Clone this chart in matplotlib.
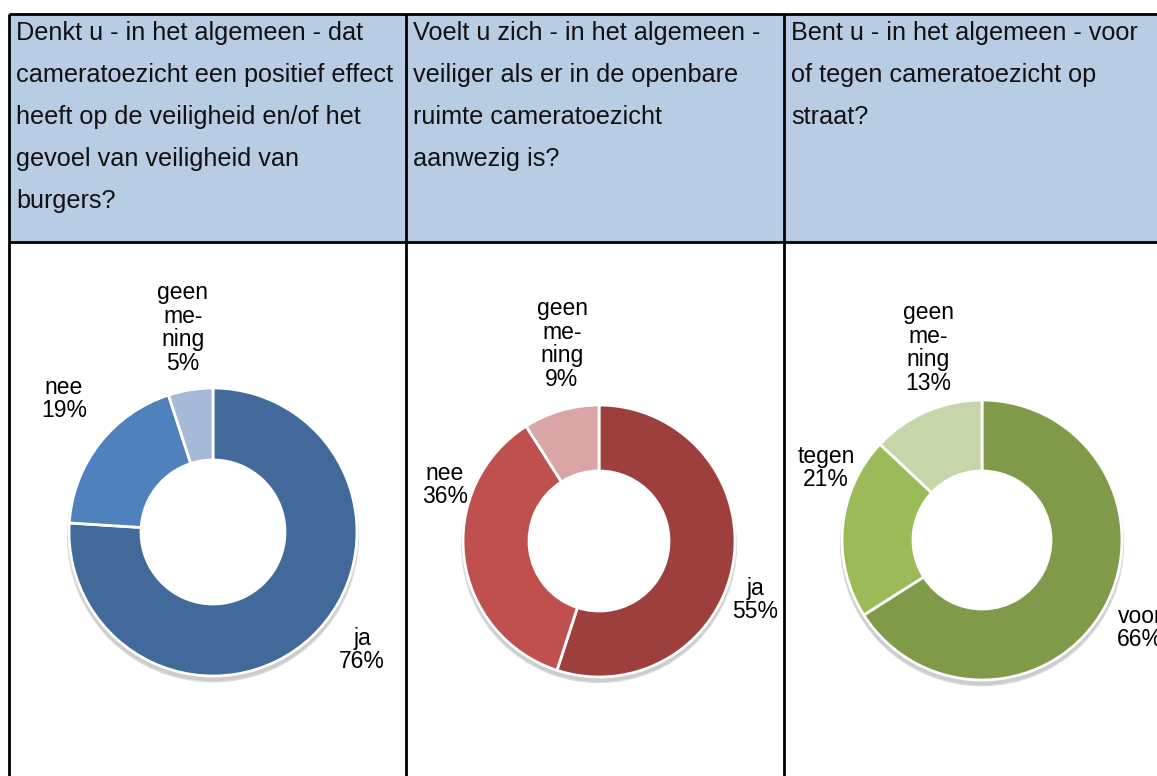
import matplotlib
matplotlib.use("Agg")
import matplotlib.pyplot as plt
from matplotlib.patches import Rectangle, Circle

plt.rcParams['font.family'] = ['Liberation Sans', 'DejaVu Sans']

# --------- данные ---------
questions = [
    ["Denkt u - in het algemeen - dat", "cameratoezicht een positief effect",
     "heeft op de veiligheid en/of het", "gevoel van veiligheid van", "burgers?"],
    ["Voelt u zich - in het algemeen -", "veiliger als er in de openbare",
     "ruimte cameratoezicht", "aanwezig is?"],
    ["Bent u - in het algemeen - voor", "of tegen cameratoezicht op", "straat?"],
]
labels_1 = ["ja", "nee", "geen\nme-\nning"]
values_1 = [76, 19, 5]
labels_2 = ["ja", "nee", "geen\nme-\nning"]
values_2 = [55, 36, 9]
labels_3 = ["voor", "tegen", "geen\nme-\nning"]
values_3 = [66, 21, 13]

colors_1 = ["#416A9B", "#4F81BD", "#A7B9D8"]
colors_2 = ["#9C3F3D", "#C0504D", "#D9A6A5"]
colors_3 = ["#7F9B4A", "#9BBB59", "#C6D6AA"]

W, H = 1157, 776
fig = plt.figure(figsize=(W/100, H/100), dpi=100)
bg = fig.add_axes([0, 0, 1, 1])
bg.set_xlim(0, W); bg.set_ylim(H, 0); bg.axis("off")

# --------- таблица ---------
col_x = [9, 406, 784, W + 5]
top, head_bot = 14, 242
bg.add_patch(Rectangle((col_x[0], top), col_x[-1]-col_x[0], head_bot-top,
                       facecolor="#B8CCE4", edgecolor="none", zorder=0))
lw = 2
bg.plot([col_x[0], W], [top, top], color="black", lw=lw, solid_capstyle="butt")
bg.plot([col_x[0], W], [head_bot, head_bot], color="black", lw=lw, solid_capstyle="butt")
for x in col_x[:3]:
    bg.plot([x, x], [top, H], color="black", lw=lw, solid_capstyle="butt")

for i, q in enumerate(questions):
    for j, line in enumerate(q):
        bg.text(col_x[i] + 7, 40 + 42*j, line, fontsize=18.2, va="baseline", ha="left",
                color="#111111")

# --------- кольцевые диаграммы ---------
charts = [
    (values_1, labels_1, colors_1, (213, 532), 144, 72,
     [(362, 650), (64, 399), (183, 328)]),
    (values_2, labels_2, colors_2, (599, 541), 136, 70,
     [(755, 600), (445, 485), (562, 344)]),
    (values_3, labels_3, colors_3, (982, 540), 140, 69,
     [(1140, 628), (826, 468), (928, 348)]),
]

for vals, labs, cols, (cx, cy), R, r, lpos in charts:
    m = 1.15
    ax = fig.add_axes([(cx - m*R)/W, 1 - (cy + m*R)/H, 2*m*R/W, 2*m*R/H])
    ax.set_xlim(-m, m); ax.set_ylim(-m, m); ax.axis("off")
    # тень
    ax.add_patch(Circle((0.0, -0.03), 1.01, color="#DADADA", zorder=0))
    ax.add_patch(Circle((0.0, -0.03), 1.0, color="#CCCCCC", zorder=0.1))
    ax.add_patch(Circle((0, 0), r/R, color="white", zorder=0.2))
    ax.pie(vals, colors=cols, startangle=90, counterclock=False, radius=1,
           wedgeprops=dict(width=1 - r/R, edgecolor="white", linewidth=2))
    ax.set_xlim(-m, m); ax.set_ylim(-m, m)
    for lab, v, (lx, ly) in zip(labs, vals, lpos):
        bg.text(lx, ly, f"{lab}\n{v}%", fontsize=16.5, ha="center", va="center",
                linespacing=1.05)

fig.savefig("out.png", dpi=100)
